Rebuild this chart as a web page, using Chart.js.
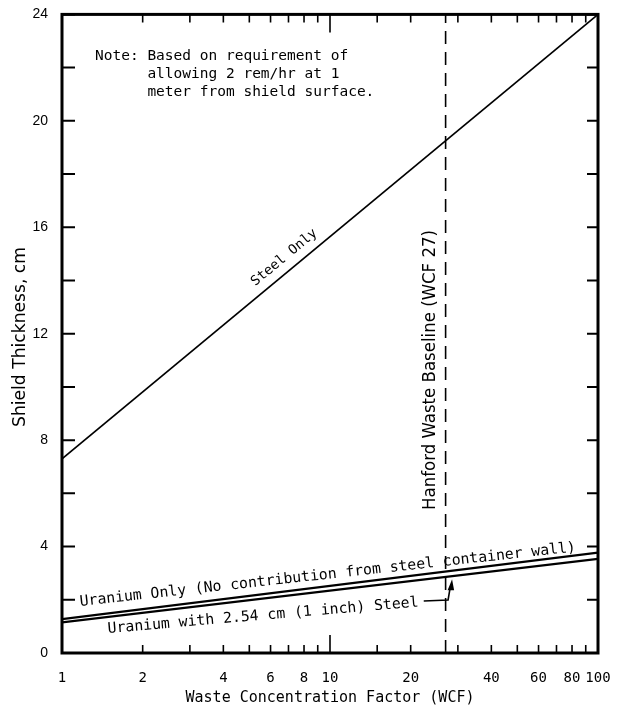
<!DOCTYPE html>
<html>
<head>
<meta charset="utf-8">
<title>Shield Thickness vs Waste Concentration Factor</title>
<script src="https://cdn.jsdelivr.net/npm/chart.js@4.4.1/dist/chart.umd.min.js"></script>
<style>
  html, body { margin: 0; padding: 0; background: #fff; }
  #wrap { width: 622px; height: 713px; }
</style>
</head>
<body>
<div id="wrap"><canvas id="shieldChart" width="622" height="713"></canvas></div>
<script>
// end points of each curve (WCF, thickness in cm)
const wcfEnds = [1, 100];
const steelOnly = [7.3, 24];
const uraniumOnly = [1.27, 3.77];
const uraniumSteel = [1.15, 3.54];
const baselineWcf = 27;
const xLabels = [1, 2, 4, 6, 8, 10, 20, 40, 60, 80, 100];
const noteLines = [
    "Note: Based on requirement of",
    "      allowing 2 rem/hr at 1",
    "      meter from shield surface."
];

const MONO = "'DejaVu Sans Mono', monospace";
const SANS = "'DejaVu Sans', sans-serif";
const INK = '#000';

function pts(ys) {
    return wcfEnds.map((w, i) => ({ x: w, y: ys[i] }));
}

// point along a curve at fraction t, plus its angle in pixels
function along(chart, ys, t) {
    const { x, y } = chart.scales;
    const x0 = x.getPixelForValue(wcfEnds[0]), y0 = y.getPixelForValue(ys[0]);
    const x1 = x.getPixelForValue(wcfEnds[1]), y1 = y.getPixelForValue(ys[1]);
    return { px: x0 + (x1 - x0) * t, py: y0 + (y1 - y0) * t, ang: Math.atan2(y1 - y0, x1 - x0) };
}

// draw text stretched / squeezed to a given length
function fitText(ctx, text, cx, cy, ang, len, font) {
    ctx.save();
    ctx.font = font;
    const w = ctx.measureText(text).width;
    ctx.translate(cx, cy);
    ctx.rotate(ang);
    ctx.scale(len / w, 1);
    ctx.textAlign = 'center';
    ctx.textBaseline = 'middle';
    ctx.fillText(text, 0, 0);
    ctx.restore();
}

function isDecade(v) {
    const l = Math.log10(v);
    return Math.abs(l - Math.round(l)) < 1e-9;
}

const annotate = {
    id: 'annotate',
    afterDatasetsDraw(chart) {
        const { ctx, chartArea: a, scales: { x, y } } = chart;
        ctx.save();
        ctx.strokeStyle = '#000';
        ctx.fillStyle = INK;

        // inward tick marks on all four sides
        ctx.lineWidth = 1.6;
        x.ticks.forEach(t => {
            const px = x.getPixelForValue(t.value);
            const len = isDecade(t.value) ? 18 : 8;
            ctx.beginPath();
            ctx.moveTo(px, a.bottom); ctx.lineTo(px, a.bottom - len);
            ctx.moveTo(px, a.top); ctx.lineTo(px, a.top + len);
            ctx.stroke();
        });
        ctx.lineWidth = 2;
        y.ticks.forEach(t => {
            const py = y.getPixelForValue(t.value);
            ctx.beginPath();
            ctx.moveTo(a.left, py); ctx.lineTo(a.left + 13, py);
            ctx.moveTo(a.right, py); ctx.lineTo(a.right - 11, py);
            ctx.stroke();
        });

        // frame
        ctx.lineWidth = 3;
        ctx.strokeRect(a.left, a.top, a.right - a.left, a.bottom - a.top);

        // note block
        ctx.font = '14.5px ' + MONO;
        ctx.textAlign = 'left';
        ctx.textBaseline = 'alphabetic';
        noteLines.forEach((s, i) => ctx.fillText(s, a.left + 33, a.top + 46 + i * 18));

        // y axis title
        fitText(ctx, 'Shield Thickness, cm', 20, 337, -Math.PI / 2, 180, '18px ' + SANS);

        // baseline label
        fitText(ctx, 'Hanford Waste Baseline (WCF 27)', x.getPixelForValue(baselineWcf) - 15, 370,
            -Math.PI / 2, 280, '17px ' + SANS);

        // steel only label
        let p = along(chart, steelOnly, 0.43);
        ctx.save();
        ctx.translate(p.px + Math.sin(p.ang) * 13, p.py - Math.cos(p.ang) * 13);
        ctx.rotate(p.ang);
        ctx.font = '13.5px ' + MONO;
        ctx.textAlign = 'center';
        ctx.textBaseline = 'middle';
        ctx.fillText('Steel Only', 0, 0);
        ctx.restore();

        // uranium only label
        p = along(chart, uraniumOnly, 0.034);
        ctx.save();
        ctx.translate(p.px, p.py - 11);
        ctx.rotate(p.ang + 0.014);
        ctx.font = '14.8px ' + MONO;
        ctx.textAlign = 'left';
        ctx.textBaseline = 'alphabetic';
        ctx.fillText('Uranium Only (No contribution from steel container wall)', 0, 0);
        ctx.restore();

        // uranium with steel label and leader arrow
        p = along(chart, uraniumSteel, 0.086);
        const txt = 'Uranium with 2.54 cm (1 inch) Steel';
        const ta = p.ang + 0.033;
        const sx = p.px, sy = p.py + 16;
        ctx.save();
        ctx.translate(sx, sy);
        ctx.rotate(ta);
        ctx.font = '14.8px ' + MONO;
        ctx.textAlign = 'left';
        ctx.textBaseline = 'alphabetic';
        ctx.fillText(txt, 0, 0);
        const tw = ctx.measureText(txt).width;
        ctx.restore();

        const ex = sx + Math.cos(ta) * (tw + 5), ey = sy + Math.sin(ta) * (tw + 5) - 5;
        const axv = 28.3;
        const ax = x.getPixelForValue(axv);
        const q = along(chart, uraniumSteel, Math.log10(axv) / 2);
        const tipY = q.py + 3;
        ctx.lineWidth = 1.6;
        ctx.beginPath();
        ctx.moveTo(ex, ey);
        ctx.lineTo(ax - 3, ey - 1);
        ctx.lineTo(ax - 1, tipY + 9);
        ctx.stroke();
        ctx.beginPath();
        ctx.moveTo(ax + 1, tipY);
        ctx.lineTo(ax - 3.5, tipY + 11);
        ctx.lineTo(ax + 3, tipY + 11);
        ctx.closePath();
        ctx.fill();

        ctx.restore();
    }
};

const ctx = document.getElementById('shieldChart').getContext('2d');
const shieldChart = new Chart(ctx, {
    type: 'line',
    data: {
        datasets: [
            { label: 'Steel Only', data: pts(steelOnly), borderColor: '#000', borderWidth: 1.6 },
            { label: 'Uranium Only', data: pts(uraniumOnly), borderColor: '#000', borderWidth: 2.2 },
            { label: 'Uranium with 2.54 cm Steel', data: pts(uraniumSteel), borderColor: '#000', borderWidth: 2.2 },
            {
                label: 'Hanford Waste Baseline',
                data: [{ x: baselineWcf, y: 0 }, { x: baselineWcf, y: 24 }],
                borderColor: '#000', borderWidth: 1.6, borderDash: [13, 8]
            }
        ]
    },
    options: {
        responsive: false,
        animation: false,
        events: [],
        layout: { padding: { top: 11, right: 24, left: 0, bottom: 0 } },
        elements: { point: { radius: 0 }, line: { tension: 0, fill: false } },
        plugins: { legend: { display: false }, tooltip: { enabled: false } },
        scales: {
            x: {
                type: 'logarithmic',
                min: 1,
                max: 100,
                grid: { display: false },
                border: { display: false },
                afterFit: s => { s.height = 60; },
                ticks: {
                    autoSkip: false,
                    maxRotation: 0,
                    padding: 9,
                    color: INK,
                    font: { family: MONO, size: 14 },
                    callback: v => {
                        const l = xLabels.find(n => Math.abs(n - v) < 1e-6);
                        return l === undefined ? '' : String(l);
                    }
                },
                title: {
                    display: true,
                    text: 'Waste Concentration Factor (WCF)',
                    color: INK,
                    font: { family: MONO, size: 15 },
                    padding: { top: 4, bottom: 6 }
                }
            },
            y: {
                min: 0,
                max: 24,
                grid: { display: false },
                border: { display: false },
                afterFit: s => { s.width = 62; },
                ticks: {
                    stepSize: 2,
                    autoSkip: false,
                    padding: 6,
                    color: INK,
                    font: { family: "'Liberation Sans', sans-serif", size: 14 },
                    callback: v => (v % 4 === 0 ? String(v) : '')
                }
            }
        }
    },
    plugins: [annotate]
});
</script>
</body>
</html>
